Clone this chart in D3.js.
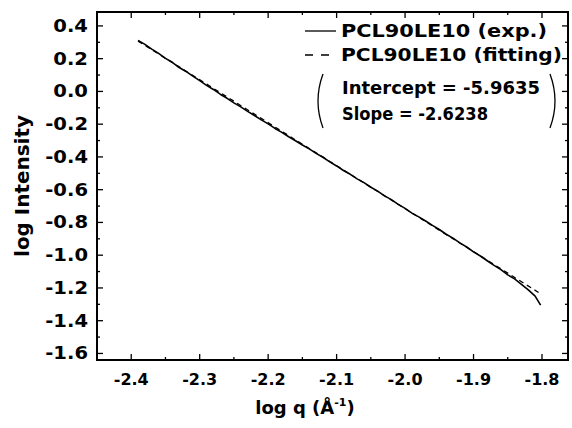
<!DOCTYPE html>
<html>
<head>
<meta charset="utf-8">
<script src="https://cdn.jsdelivr.net/npm/d3@7"></script>
<style>
  html, body { margin: 0; padding: 0; background: #fff; }
  svg text { font-family: "DejaVu Sans", "Liberation Sans", Arial, sans-serif; font-weight: bold; fill: #000; }
</style>
</head>
<body>
<svg id="chart" width="572" height="428"></svg>
<script>
// Measured scattering curve: log q vs log I
const logQ = [-2.390, -2.380, -2.370, -2.360, -2.350, -2.340, -2.330, -2.320, -2.310, -2.300,
              -2.290, -2.280, -2.270, -2.260, -2.250, -2.240, -2.230, -2.220, -2.210, -2.200,
              -2.190, -2.180, -2.170, -2.160, -2.150, -2.140, -2.130, -2.120, -2.110, -2.100,
              -2.090, -2.080, -2.070, -2.060, -2.050, -2.040, -2.030, -2.020, -2.010, -2.000,
              -1.990, -1.980, -1.970, -1.960, -1.950, -1.940, -1.930, -1.920, -1.910, -1.900,
              -1.890, -1.880, -1.870, -1.860, -1.850, -1.840, -1.830, -1.820, -1.810, -1.802];
const logI = [0.312, 0.287, 0.258, 0.232, 0.202, 0.178, 0.146, 0.122, 0.093, 0.066,
              0.037, 0.012, -0.017, -0.042, -0.070, -0.094, -0.122, -0.147, -0.174, -0.198,
              -0.226, -0.250, -0.277, -0.301, -0.327, -0.351, -0.378, -0.402, -0.430, -0.455,
              -0.483, -0.506, -0.534, -0.557, -0.585, -0.609, -0.638, -0.661, -0.690, -0.714,
              -0.743, -0.766, -0.791, -0.818, -0.843, -0.872, -0.896, -0.925, -0.950, -0.980,
              -1.005, -1.034, -1.062, -1.088, -1.120, -1.145, -1.178, -1.212, -1.250, -1.305];

// Linear fit parameters
const fitIntercept = -5.9635;
const fitSlope = -2.6238;
const fitRange = [-2.390, -1.805];

// Axis ticks
const xTicks = [-2.4, -2.3, -2.2, -2.1, -2.0, -1.9, -1.8];
const xTickLabels = ["-2.4", "-2.3", "-2.2", "-2.1", "-2.0", "-1.9", "-1.8"];
const xMinorTicks = [-2.45, -2.35, -2.25, -2.15, -2.05, -1.95, -1.85];
const yTicks = [0.4, 0.2, 0.0, -0.2, -0.4, -0.6, -0.8, -1.0, -1.2, -1.4, -1.6];
const yTickLabels = ["0.4", "0.2", "0.0", "-0.2", "-0.4", "-0.6", "-0.8", "-1.0", "-1.2", "-1.4", "-1.6"];
const yMinorTicks = [0.3, 0.1, -0.1, -0.3, -0.5, -0.7, -0.9, -1.1, -1.3, -1.5];

const legendLabels = ["PCL90LE10 (exp.)", "PCL90LE10 (fitting)"];
const fitLabels = ["Intercept = -5.9635", "Slope = -2.6238"];

const margin = { left: 97, top: 12, right: 4, bottom: 68 };
const W = 572, H = 428;
const svg = d3.select("#chart");

const x = d3.scaleLinear().domain([-2.45, -1.762]).range([margin.left, W - margin.right]);
const y = d3.scaleLinear().domain([-1.64, 0.485]).range([H - margin.bottom, margin.top]);

const x0 = x.range()[0], x1 = x.range()[1];
const y0 = y.range()[0], y1 = y.range()[1];

// Stretch a text element horizontally by a factor of its natural width
function stretch(sel, k) {
  sel.each(function () {
    const w = this.getComputedTextLength();
    d3.select(this).attr("textLength", w * k).attr("lengthAdjust", "spacingAndGlyphs");
  });
}

// Inward ticks on all four sides
const majorLen = 6, minorLen = 3;
const tickG = svg.append("g").attr("stroke", "#000").attr("stroke-width", 1.3);
function vTicks(vals, len) {
  vals.forEach(v => {
    tickG.append("line").attr("x1", x(v)).attr("x2", x(v)).attr("y1", y0).attr("y2", y0 - len);
    tickG.append("line").attr("x1", x(v)).attr("x2", x(v)).attr("y1", y1).attr("y2", y1 + len);
  });
}
function hTicks(vals, len) {
  vals.forEach(v => {
    tickG.append("line").attr("y1", y(v)).attr("y2", y(v)).attr("x1", x0).attr("x2", x0 + len);
    tickG.append("line").attr("y1", y(v)).attr("y2", y(v)).attr("x1", x1).attr("x2", x1 - len);
  });
}
vTicks(xTicks, majorLen); vTicks(xMinorTicks, minorLen);
hTicks(yTicks, majorLen); hTicks(yMinorTicks, minorLen);

// Frame
svg.append("rect").attr("x", x0).attr("y", y1).attr("width", x1 - x0).attr("height", y0 - y1)
  .attr("fill", "none").attr("stroke", "#000").attr("stroke-width", 2);

// Tick labels
svg.append("g").selectAll("text").data(xTicks).join("text")
  .attr("x", d => x(d)).attr("y", y0 + 25).attr("text-anchor", "middle")
  .attr("font-size", 16).text((d, i) => xTickLabels[i]);
svg.append("g").selectAll("text").data(yTicks).join("text")
  .attr("x", x0 - 9).attr("y", d => y(d)).attr("dy", "0.35em").attr("text-anchor", "end")
  .attr("font-size", 17).text((d, i) => yTickLabels[i])
  .call(stretch, 1.15);

// Axis titles
const xt = svg.append("text").attr("x", 305).attr("y", 414)
  .attr("text-anchor", "middle").attr("font-size", 18);
xt.append("tspan").text("log q (Å");
xt.append("tspan").attr("font-size", 11).attr("dy", -8).text("-1");
xt.append("tspan").attr("dy", 8).text(")");

svg.append("text").attr("transform", `translate(29,${(y0 + y1) / 2}) rotate(-90)`)
  .attr("text-anchor", "middle").attr("font-size", 19).text("log Intensity")
  .call(stretch, 1.05);

// Data lines
const line = d3.line().x(d => x(d[0])).y(d => y(d[1]));
const expPts = logQ.map((q, i) => [q, logI[i]]);
const fitPts = fitRange.map(q => [q, fitIntercept + fitSlope * q]);

svg.append("path").datum(fitPts).attr("d", line).attr("fill", "none")
  .attr("stroke", "#000").attr("stroke-width", 1.3).attr("stroke-dasharray", "5,4");
svg.append("path").datum(expPts).attr("d", line).attr("fill", "none")
  .attr("stroke", "#000").attr("stroke-width", 1.6).attr("stroke-linejoin", "round");

// Legend
const lg = svg.append("g");
const legX = 305, legTextX = 341;
const rowY = [31, 55];
const legendWidths = [206, 221];
lg.append("line").attr("x1", legX).attr("x2", legX + 31).attr("y1", rowY[0]).attr("y2", rowY[0])
  .attr("stroke", "#000").attr("stroke-width", 1.3);
lg.append("line").attr("x1", legX).attr("x2", legX + 25).attr("y1", rowY[1]).attr("y2", rowY[1])
  .attr("stroke", "#000").attr("stroke-width", 1.3).attr("stroke-dasharray", "8,8");
legendLabels.forEach((t, i) => {
  lg.append("text").attr("x", legTextX).attr("y", rowY[i]).attr("dy", "0.35em")
    .attr("font-size", 17).attr("textLength", legendWidths[i]).attr("lengthAdjust", "spacingAndGlyphs")
    .text(t);
});
const fitRowY = [88, 114];
const fitWidths = [198, 146];
fitLabels.forEach((t, i) => {
  lg.append("text").attr("x", legTextX + 1).attr("y", fitRowY[i]).attr("dy", "0.35em")
    .attr("font-size", 17).attr("textLength", fitWidths[i]).attr("lengthAdjust", "spacingAndGlyphs")
    .text(t);
});
// Bracket pair around the fit parameters
const bTop = 74, bBot = 128;
lg.append("path").attr("d", `M323,${bTop} Q313,${(bTop + bBot) / 2} 323,${bBot}`)
  .attr("fill", "none").attr("stroke", "#000").attr("stroke-width", 1.3);
lg.append("path").attr("d", `M550,${bTop} Q560,${(bTop + bBot) / 2} 550,${bBot}`)
  .attr("fill", "none").attr("stroke", "#000").attr("stroke-width", 1.3);
</script>
</body>
</html>
